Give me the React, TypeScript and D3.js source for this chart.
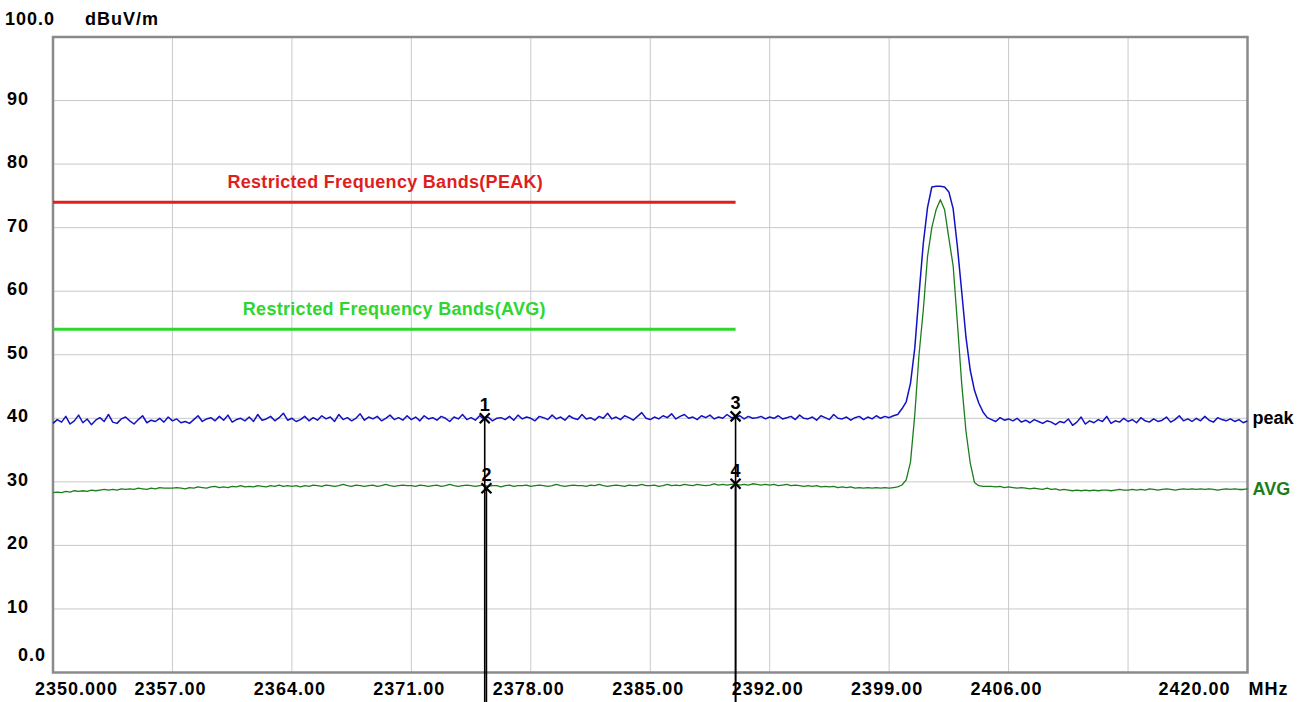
import * as d3 from "d3";

const W = 1311;
const H = 702;

// frequency sweep: 2350 .. 2420 MHz, one reading every 0.25 MHz
const startMHz = 2350;
const stepMHz = 0.25;

// peak detector trace (dBuV/m)
const peakBefore = [
  39.2, 39.8, 39.4, 40.3, 39.1, 39.6, 40.5, 39.3, 39.9, 39.0, 39.7, 40.1, 39.5, 40.6, 39.4, 39.2, 39.9, 40.2, 39.6, 39.1, 39.8, 40.4, 39.3, 39.7, 39.5, 40.0, 39.4, 40.2,
  39.6, 39.9, 39.3, 39.5, 39.2, 39.8, 40.4, 39.5, 39.9, 40.1, 39.6, 40.3, 39.7, 40.5, 39.4, 39.8, 40.0, 39.6, 40.2, 39.5, 40.6, 39.7, 39.9, 40.3, 39.6, 40.1, 40.8, 39.7,
  40.0, 39.5, 39.8, 40.3, 39.6, 40.1, 39.7, 40.4, 39.9, 40.2, 39.5, 40.6, 39.8, 40.1, 39.6, 40.0, 40.7, 39.7, 40.2, 39.9, 40.3, 39.6, 40.0, 40.5, 39.8, 40.1, 39.7, 40.4,
  39.8, 40.2, 39.6, 40.4, 39.9, 40.1, 39.7, 40.3, 40.0, 39.5, 40.2, 39.9, 40.6, 39.8, 40.1, 39.7, 40.4, 39.9, 40.2, 39.6, 40.0, 40.1, 39.8, 40.3, 39.7, 40.5, 39.9, 40.2,
  40.0, 39.6, 40.3, 40.1, 39.8, 40.5, 39.9, 40.2, 39.7, 40.4, 40.0, 39.8, 40.6, 39.9, 40.1, 39.7, 40.3, 40.0, 40.8, 39.9, 40.2, 39.8, 40.4, 40.1, 39.7, 40.3, 40.9, 40.0,
  39.8, 40.2, 39.9, 40.4, 40.1, 40.7, 39.9, 40.3, 40.6, 40.0, 40.2, 39.8, 40.4, 40.1, 40.5, 39.9, 40.2, 40.0, 40.6, 40.1, 40.2, 40.4, 39.9, 40.3, 40.0, 40.1, 40.3, 39.9,
  40.2, 40.0, 40.4, 39.9, 40.1, 40.3, 39.8, 40.5, 40.0, 39.9, 40.2, 39.7, 40.4, 40.1, 39.8, 40.6, 40.0, 39.9, 40.2, 39.7, 40.1, 40.3, 39.8, 40.2, 39.9, 40.4, 40.0, 40.3,
  40.1, 40.4,
];
const peakBurst = [
  40.6, 41.5, 42.6, 45.5, 51.0, 59.5, 67.5, 73.2, 76.4, 76.5, 76.5, 76.4, 75.6, 73.0, 67.0, 60.0, 52.8, 47.6, 44.4, 42.4, 41.0, 40.1,
];
const peakAfter = [
  39.8, 39.5, 40.1, 39.7, 39.9, 39.6, 40.0, 39.4,
  39.7, 39.3, 39.8, 39.5, 39.2, 39.6, 39.4, 39.0,
  39.5, 39.3, 39.9, 38.9, 39.4, 40.2, 39.1, 39.6,
  39.3, 39.8, 39.5, 40.3, 39.2, 39.6, 39.4, 40.0,
  39.5, 39.8, 39.3, 40.1, 39.6, 39.4, 39.9, 39.5,
  39.7, 40.2, 39.4, 39.8, 40.4, 39.6, 39.9, 39.5,
  40.0, 39.6, 40.3, 39.7, 39.4, 40.1, 39.8, 39.6,
  39.9, 39.5, 39.8, 39.3, 39.6,
];

// average detector trace (dBuV/m)
const avgBefore = [
  28.3, 28.4, 28.3, 28.5, 28.4, 28.6, 28.5, 28.6, 28.5, 28.7, 28.6, 28.7, 28.8, 28.7, 28.8, 28.7, 28.9, 28.8, 28.9, 28.8, 29.0, 28.9, 28.8, 29.0, 28.9, 29.1, 29.0, 29.0,
  29.0, 29.1, 29.0, 28.9, 29.1, 29.0, 29.2, 29.1, 29.0, 29.2, 29.3, 29.1, 29.2, 29.1, 29.3, 29.2, 29.4, 29.2, 29.3, 29.2, 29.4, 29.3, 29.2, 29.4, 29.3, 29.5, 29.3, 29.4,
  29.3, 29.4, 29.2, 29.4, 29.3, 29.5, 29.4, 29.3, 29.5, 29.4, 29.3, 29.4, 29.6, 29.4, 29.3, 29.5, 29.4, 29.3, 29.4, 29.5, 29.3, 29.4, 29.6, 29.4, 29.3, 29.4, 29.5, 29.4,
  29.4, 29.3, 29.5, 29.4, 29.3, 29.4, 29.5, 29.3, 29.4, 29.6, 29.4, 29.3, 29.4, 29.5, 29.4, 29.3, 29.4, 29.5, 29.3, 29.4, 29.4, 29.2, 29.4, 29.5, 29.3, 29.4, 29.4, 29.5,
  29.3, 29.4, 29.5, 29.4, 29.3, 29.4, 29.6, 29.4, 29.3, 29.4, 29.5, 29.4, 29.4, 29.3, 29.5, 29.4, 29.6, 29.4, 29.3, 29.4, 29.5, 29.4, 29.3, 29.5, 29.4, 29.4, 29.6, 29.4,
  29.4, 29.5, 29.3, 29.4, 29.6, 29.4, 29.5, 29.4, 29.6, 29.5, 29.4, 29.6, 29.5, 29.4, 29.5, 29.7, 29.5, 29.6, 29.5, 29.6, 29.7, 29.5, 29.6, 29.5, 29.7, 29.6, 29.5, 29.6,
  29.5, 29.6, 29.4, 29.5, 29.6, 29.4, 29.5, 29.4, 29.3, 29.4, 29.3, 29.4, 29.2, 29.3, 29.2, 29.3, 29.1, 29.2, 29.1, 29.2, 29.0, 29.1, 29.0, 29.1, 29.0, 29.1, 29.0, 29.1,
  29.0, 29.1,
];
const avgBurst = [
  29.2, 29.5, 30.3, 33.1, 40.5, 50.0, 57.0, 65.5, 70.0, 72.8, 74.4, 72.8, 68.3, 64.0, 55.0, 45.5, 38.0, 33.0, 29.9, 29.4, 29.3, 29.3,
];
const avgAfter = [
  29.3, 29.2, 29.3, 29.1, 29.2, 29.1, 29.0, 29.1,
  29.0, 28.9, 29.0, 28.9, 28.8, 29.0, 28.8, 28.9,
  28.7, 28.8, 28.7, 28.6, 28.7, 28.6, 28.7, 28.6,
  28.7, 28.6, 28.7, 28.7, 28.6, 28.7, 28.8, 28.7,
  28.7, 28.8, 28.7, 28.8, 28.7, 28.9, 28.8, 28.7,
  28.8, 28.9, 28.8, 28.7, 28.8, 28.9, 28.8, 28.9,
  28.8, 28.9, 28.8, 28.9, 28.8, 28.7, 28.8, 28.9,
  28.8, 28.9, 28.8, 28.8, 28.9,
];

// limit lines
const limits = [
  { label: "Restricted Frequency Bands(PEAK)", level: 74, from: 2350, to: 2390, color: "#e01e1e" },
  { label: "Restricted Frequency Bands(AVG)", level: 54, from: 2350, to: 2390, color: "#2ed62e" },
];

const markers = [
  { id: "1", freq: 2375.3, level: 40.0 },
  { id: "2", freq: 2375.4, level: 29.0 },
  { id: "3", freq: 2390.0, level: 40.3 },
  { id: "4", freq: 2390.0, level: 29.7 },
];

const freqGrid = [2357, 2364, 2371, 2378, 2385, 2392, 2399, 2406, 2413];
const freqLabels = [2357, 2364, 2371, 2378, 2385, 2392, 2399, 2406];
const levelTicks = [10, 20, 30, 40, 50, 60, 70, 80, 90];

const toPoints = (vals: number[]) => vals.map((v, i) => ({ f: startMHz + i * stepMHz, v }));
const peakTrace = toPoints([...peakBefore, ...peakBurst, ...peakAfter]);
const avgTrace = toPoints([...avgBefore, ...avgBurst, ...avgAfter]);

const FONT = "'Liberation Sans', Arial, sans-serif";

export default function App() {
  const x = d3.scaleLinear().domain([2350, 2420]).range([53, 1247.5]);
  const y = d3.scaleLinear().domain([0, 100]).range([672.5, 37]);

  const line = d3
    .line<{ f: number; v: number }>()
    .x((d) => x(d.f))
    .y((d) => y(d.v));

  const [x0, x1] = x.range();
  const [y0, y1] = y.range();

  return (
    <div style={{ position: "fixed", left: 0, top: 0, width: W, height: H, background: "#fff" }}>
      <svg width={W} height={H} style={{ display: "block" }} fontFamily={FONT}>
        <rect width={W} height={H} fill="#fff" />

        {/* grid */}
        {freqGrid.map((f) => (
          <line key={"gx" + f} x1={x(f)} x2={x(f)} y1={y1} y2={y0} stroke="#c9c9c9" strokeWidth={1} />
        ))}
        {levelTicks.map((v) => (
          <line key={"gy" + v} x1={x0} x2={x1} y1={y(v)} y2={y(v)} stroke="#c9c9c9" strokeWidth={1} />
        ))}

        {/* frame */}
        <rect x={x0} y={y1} width={x1 - x0} height={y0 - y1} fill="none" stroke="#8a8a8a" strokeWidth={2.5} />

        {/* y axis labels */}
        <g fontSize={18} fontWeight="bold" fill="#000" letterSpacing={1}>
          <text x={5} y={25}>100.0</text>
          <text x={85} y={25}>dBuV/m</text>
          {levelTicks.map((v) => (
            <text key={"ly" + v} x={7} y={y(v) + 4}>
              {v}
            </text>
          ))}
          <text x={18} y={661}>0.0</text>
        </g>

        {/* x axis labels */}
        <g fontSize={18} fontWeight="bold" fill="#000" letterSpacing={1}>
          <text x={x(2350) - 18} y={695}>2350.000</text>
          {freqLabels.map((f) => (
            <text key={"lx" + f} x={x(f) - 2} y={695} textAnchor="middle">
              {f.toFixed(2)}
            </text>
          ))}
          <text x={x(2420) - 17} y={695} textAnchor="end">2420.00</text>
          <text x={x1 + 1} y={695}>MHz</text>
        </g>

        {/* limit lines */}
        {limits.map((l) => (
          <g key={l.label}>
            <line x1={x(l.from)} x2={x(l.to)} y1={y(l.level)} y2={y(l.level)} stroke={l.color} strokeWidth={3} />
            <text
              x={(x(l.from) + x(l.to)) / 2 + (l.level > 60 ? -9 : 0)}
              y={y(l.level) - 14}
              textAnchor="middle"
              fontSize={18}
              fontWeight="bold"
              letterSpacing={0.3}
              fill={l.color}
            >
              {l.label}
            </text>
          </g>
        ))}

        {/* traces */}
        <path d={line(avgTrace) || ""} fill="none" stroke="#1c7d1c" strokeWidth={1.3} strokeLinejoin="round" />
        <path d={line(peakTrace) || ""} fill="none" stroke="#1212c4" strokeWidth={1.5} strokeLinejoin="round" />

        <text x={x1 + 5} y={y(peakTrace[peakTrace.length - 1].v) + 3} fontSize={18} fontWeight="bold" fill="#000">
          peak
        </text>
        <text x={x1 + 5} y={y(avgTrace[avgTrace.length - 1].v) + 6} fontSize={18} fontWeight="bold" fill="#1c7d1c">
          AVG
        </text>

        {/* markers */}
        {markers.map((m) => {
          const mx = x(m.freq);
          const my = y(m.level);
          return (
            <g key={"m" + m.id}>
              <line x1={mx} x2={mx} y1={my} y2={H} stroke="#000" strokeWidth={1.6} />
              <line x1={mx - 5} x2={mx + 5} y1={my - 5} y2={my + 5} stroke="#000" strokeWidth={2.2} />
              <line x1={mx - 5} x2={mx + 5} y1={my + 5} y2={my - 5} stroke="#000" strokeWidth={2.2} />
              <text x={mx} y={my - 7} textAnchor="middle" fontSize={18} fontWeight="bold" fill="#000">
                {m.id}
              </text>
            </g>
          );
        })}
      </svg>
    </div>
  );
}
